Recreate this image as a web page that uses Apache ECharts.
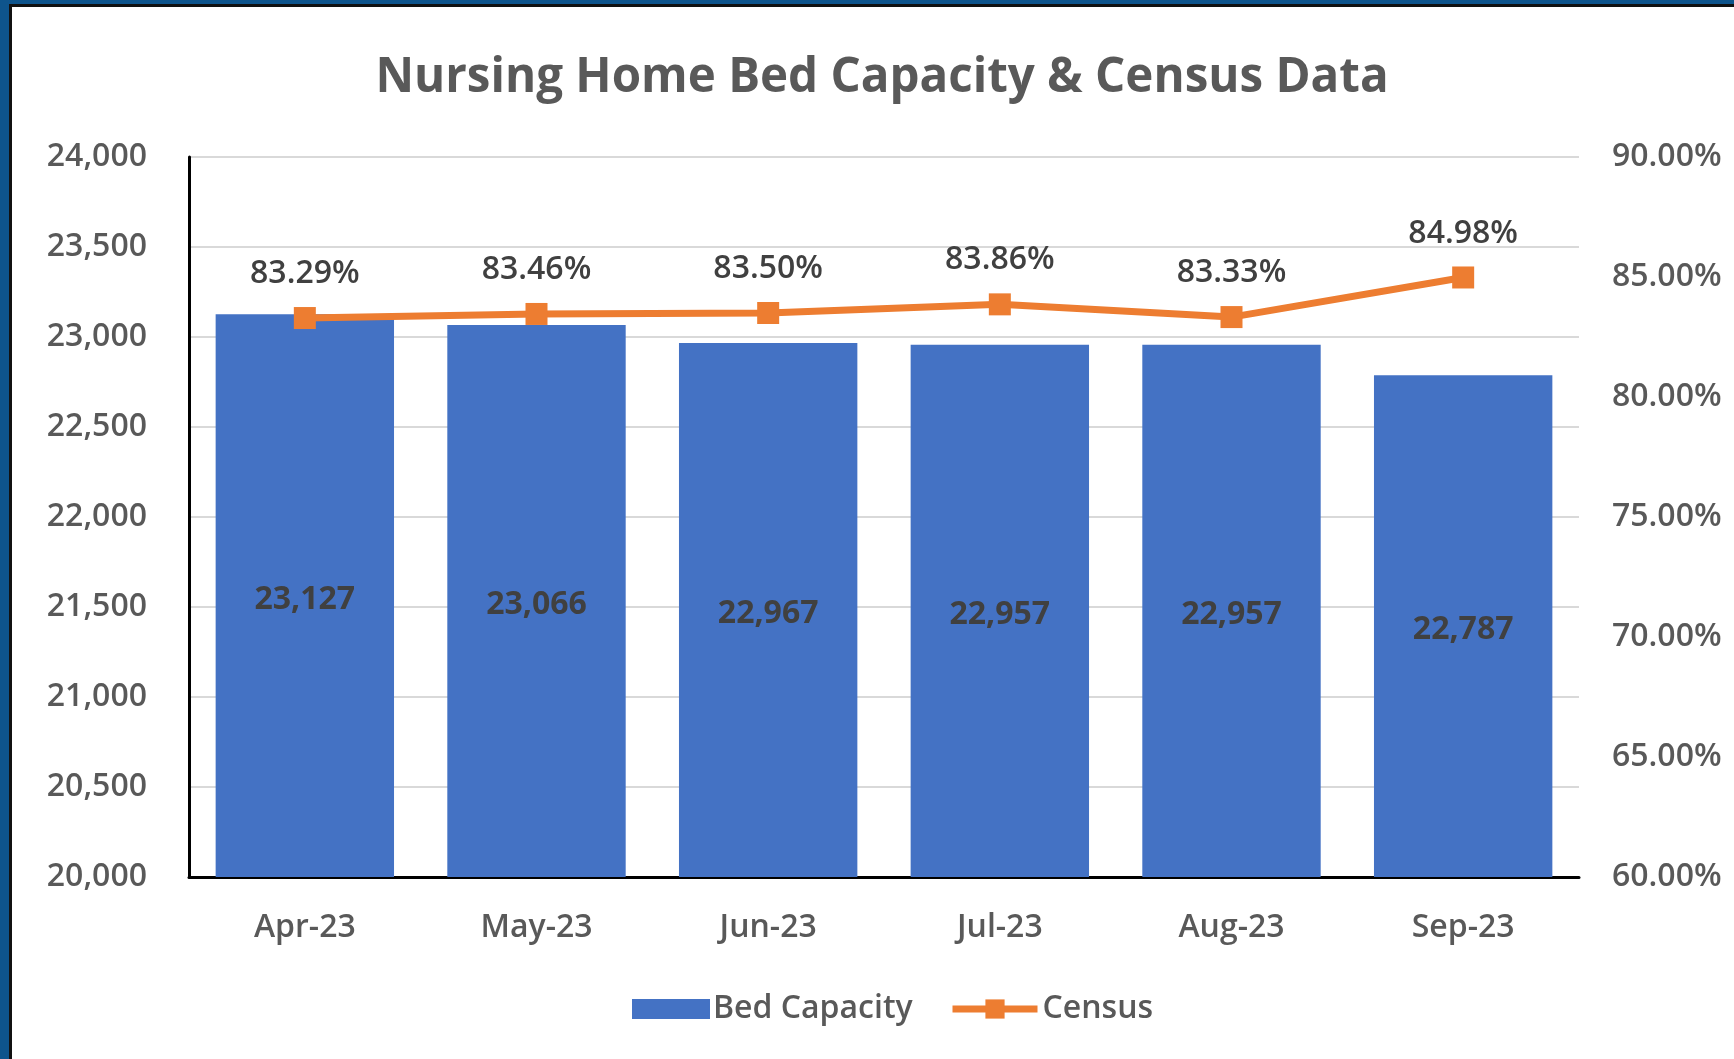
<!DOCTYPE html>
<html>
<head>
<meta charset="utf-8">
<script src="https://cdn.jsdelivr.net/npm/echarts@6/dist/echarts.min.js"></script>
<style>
html,body{margin:0;padding:0;background:#fff;}
#chart{position:absolute;left:0;top:0;width:1734px;height:1059px;}
.f{position:absolute;}
</style>
</head>
<body>
<div id="chart"></div>
<div class="f" style="left:0;top:0;width:9px;height:1059px;background:#0E548C"></div>
<div class="f" style="left:0;top:0;width:1734px;height:4px;background:#0E548C"></div>
<div class="f" style="left:9px;top:4px;width:3px;height:1055px;background:#111"></div>
<div class="f" style="left:9px;top:4px;width:1725px;height:3px;background:#111"></div>
<script>
const categories = ['Apr-23', 'May-23', 'Jun-23', 'Jul-23', 'Aug-23', 'Sep-23'];
const bedCapacity = [23127, 23066, 22967, 22957, 22957, 22787];
const census = [83.29, 83.46, 83.50, 83.86, 83.33, 84.98];
const leftTicks = {min: 20000, max: 24000, interval: 500};
const rightTicks = {min: 60, max: 90, interval: 5};

const FONT = 'Open Sans';
const GRAY = '#595959';
const chart = echarts.init(document.getElementById('chart'), null, {renderer: 'canvas'});
chart.setOption({
  animation: false,
  backgroundColor: '#fff',
  textStyle: {fontFamily: FONT},
  title: {
    text: 'Nursing Home Bed Capacity & Census Data',
    left: 877, top: 49, textAlign: 'center',
    textStyle: {fontFamily: FONT, fontSize: 47.5, fontWeight: 'bold', color: GRAY}
  },
  grid: {left: 189, right: 155, top: 157, bottom: 182, containLabel: false, outerBoundsMode: 'none'},
  legend: [{
    left: 627, top: 988,
    itemWidth: 78, itemHeight: 20,
    textStyle: {fontFamily: FONT, fontSize: 32, fontWeight: 600, color: GRAY, padding: [0, 0, 0, -2]},
    data: [{name: 'Bed Capacity', icon: 'rect'}]
  }, {
    left: 944, top: 988,
    itemWidth: 85, itemHeight: 24,
    lineStyle: {width: 7},
    textStyle: {fontFamily: FONT, fontSize: 32, fontWeight: 600, color: GRAY, padding: [0, 0, 0, 0]},
    data: [{name: 'Census'}]
  }],
  xAxis: {
    type: 'category', data: categories,
    axisLine: {show: true, lineStyle: {color: '#000', width: 3}},
    axisTick: {show: false},
    axisLabel: {fontFamily: FONT, fontSize: 32, fontWeight: 600, color: GRAY, margin: 35}
  },
  yAxis: [{
    type: 'value', min: leftTicks.min, max: leftTicks.max, interval: leftTicks.interval,
    axisLine: {show: true, lineStyle: {color: '#000', width: 3}},
    axisTick: {show: false},
    splitLine: {show: true, lineStyle: {color: '#D9D9D9', width: 2}},
    axisLabel: {fontFamily: FONT, fontSize: 32, fontWeight: 600, color: GRAY, margin: 42,
      formatter: v => v.toLocaleString('en-US')}
  }, {
    type: 'value', position: 'right', min: rightTicks.min, max: rightTicks.max, interval: rightTicks.interval,
    axisLine: {show: false}, axisTick: {show: false}, splitLine: {show: false},
    axisLabel: {fontFamily: FONT, fontSize: 32, fontWeight: 600, color: GRAY, margin: 33,
      formatter: v => v.toFixed(2) + '%'}
  }],
  series: [{
    name: 'Bed Capacity', type: 'bar', data: bedCapacity, yAxisIndex: 0,
    barCategoryGap: '23%',
    itemStyle: {color: '#4472C4'},
    label: {show: true, position: 'inside', offset: [0, 4], fontFamily: FONT, fontSize: 32, fontWeight: 'bold', color: '#404040',
      formatter: p => p.value.toLocaleString('en-US')}
  }, {
    name: 'Census', type: 'line', data: census, yAxisIndex: 1,
    symbol: 'rect', symbolSize: 22,
    lineStyle: {color: '#ED7D31', width: 7},
    itemStyle: {color: '#ED7D31'},
    label: {show: true, position: 'top', distance: 17, fontFamily: FONT, fontSize: 32, fontWeight: 600, color: '#404040',
      formatter: p => p.value.toFixed(2) + '%'}
  }]
});
</script>
</body>
</html>
